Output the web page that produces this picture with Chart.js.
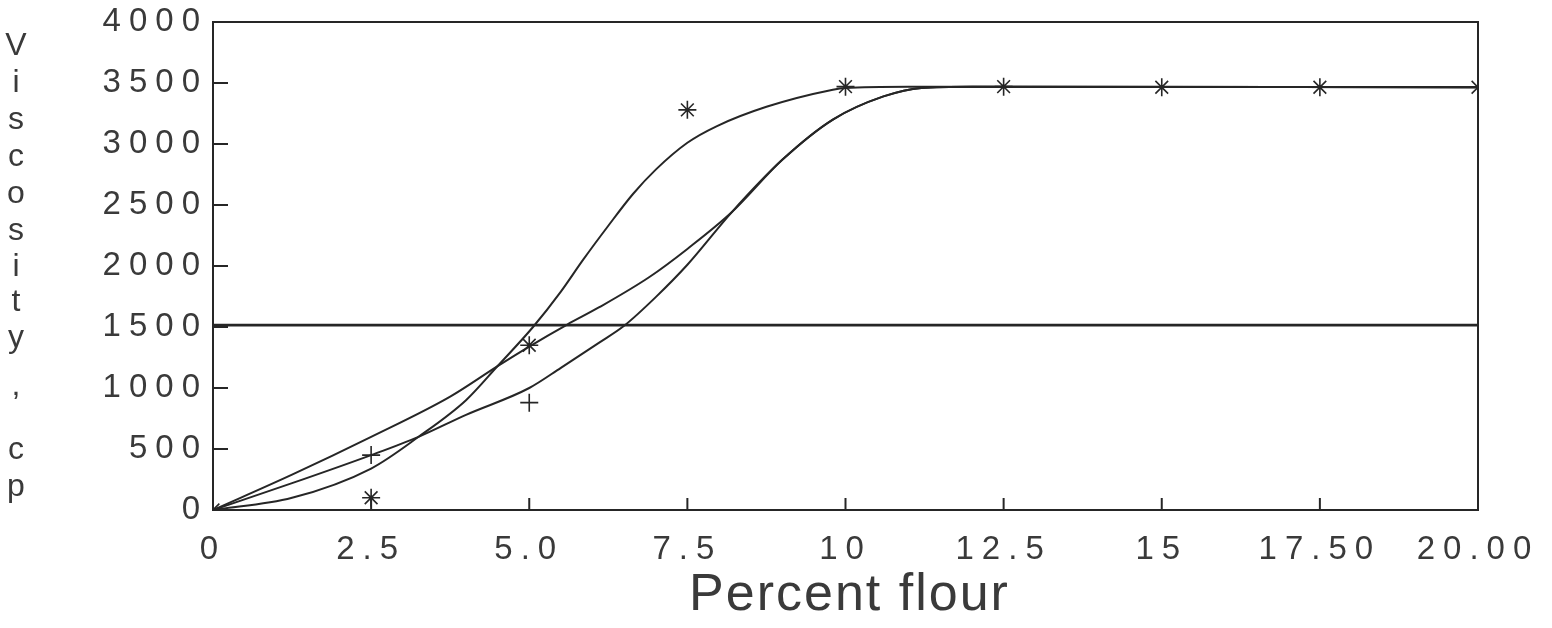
<!DOCTYPE html>
<html>
<head>
<meta charset="utf-8">
<script src="https://cdn.jsdelivr.net/npm/chart.js@4.4.1/dist/chart.umd.min.js"></script>
<style>
  html, body { margin: 0; padding: 0; background: #fff; }
  #wrap { position: relative; width: 1552px; height: 628px; }
</style>
</head>
<body>
<div id="wrap"><canvas id="chart"></canvas></div>
<script>
// tick labels as printed on the original plot
const xTickLabels = ["0", "2.5", "5.0", "7.5", "10", "12.5", "15", "17.50", "20.00"];
const yTickLabels = ["0", "500", "1000", "1500", "2000", "2500", "3000", "3500", "4000"];
const xTitle = "Percent flour";
const yTitleLetters = ["V", "i", "s", "c", "o", "s", "i", "t", "y", ",", "c", "p"];

// measured points
const starX = [0, 2.5, 5, 7.5, 10, 12.5, 15, 17.5, 20];
const starY = [0, 100, 1350, 3280, 3470, 3470, 3465, 3465, 3465];
const plusX = [2.5, 5];
const plusY = [450, 880];

// fitted curves
const curveAX = [0, 1.25, 2.5, 3.75, 4.5, 5, 5.6, 6.1, 6.9, 7.5, 8.2, 9, 9.8, 10.6, 11.2, 12, 20];
const curveAY = [0, 290, 600, 930, 1180, 1340, 1520, 1660, 1910, 2140, 2440, 2870, 3200, 3390, 3460, 3470, 3465];
const curveBX = [0, 1.25, 2.5, 3.25, 4, 5, 5.5, 6.1, 6.5, 7, 7.5, 8.2, 9, 9.8, 10.6, 11.2, 12, 20];
const curveBY = [0, 220, 450, 600, 780, 1000, 1165, 1370, 1510, 1745, 2010, 2440, 2870, 3200, 3390, 3460, 3470, 3465];
const curveCX = [0, 1.25, 2.5, 3.25, 4, 4.5, 5.06, 5.5, 5.85, 6.25, 6.64, 7, 7.5, 7.96, 8.75, 9.8, 10, 11, 20];
const curveCY = [0, 100, 340, 600, 900, 1180, 1500, 1790, 2050, 2330, 2590, 2790, 3010, 3145, 3305, 3445, 3460, 3470, 3465];

// flat reference line
const refX = [0, 20];
const refY = [1515, 1515];

const ink = "#262626";
const textInk = "#3a3a3a";
const fontFamily = "'Liberation Sans', Arial, sans-serif";

const pts = (xs, ys) => xs.map((x, i) => ({ x: x, y: ys[i] }));

const curve = (xs, ys) => ({
  type: "line",
  data: pts(xs, ys),
  borderColor: ink,
  borderWidth: 2,
  pointRadius: 0,
  cubicInterpolationMode: "monotone",
  fill: false,
});

// wide letter spacing of the old plotter lettering
const spacing = {
  id: "spacing",
  beforeLayout(chart) { chart.ctx.letterSpacing = "8px"; },
  beforeDraw(chart) { chart.ctx.letterSpacing = "8px"; },
};

const frame = {
  id: "frame",
  afterDatasetsDraw(chart) {
    const { ctx, chartArea, scales } = chart;
    ctx.save();
    ctx.strokeStyle = ink;
    ctx.lineWidth = 2;
    ctx.strokeRect(chartArea.left, chartArea.top, chartArea.right - chartArea.left, chartArea.bottom - chartArea.top);
    scales.y.ticks.forEach((t) => {
      const py = scales.y.getPixelForValue(t.value);
      ctx.beginPath();
      ctx.moveTo(chartArea.left, py);
      ctx.lineTo(chartArea.left + 15, py);
      ctx.stroke();
    });
    scales.x.ticks.forEach((t) => {
      const px = scales.x.getPixelForValue(t.value);
      ctx.beginPath();
      ctx.moveTo(px, chartArea.bottom);
      ctx.lineTo(px, chartArea.bottom - 12);
      ctx.stroke();
    });
    ctx.restore();
  },
  afterDraw(chart) {
    const { ctx, chartArea } = chart;
    ctx.save();
    ctx.fillStyle = textInk;

    // stacked y title
    const ys = [46, 83, 120, 157, 194, 231, 267, 302, 338, 386, 450, 487];
    ctx.letterSpacing = "0px";
    ctx.font = "32px " + fontFamily;
    ctx.textAlign = "center";
    ctx.textBaseline = "middle";
    yTitleLetters.forEach((ch, i) => ctx.fillText(ch, 16, ys[i]));

    // x title
    ctx.letterSpacing = "2px";
    ctx.font = "52px " + fontFamily;
    ctx.textBaseline = "alphabetic";
    ctx.fillText(xTitle, (chartArea.left + chartArea.right) / 2 + 4, 610);
    ctx.restore();
  },
};

new Chart(document.getElementById("chart"), {
  data: {
    datasets: [
      curve(curveAX, curveAY),
      curve(curveBX, curveBY),
      curve(curveCX, curveCY),
      {
        type: "line",
        data: pts(refX, refY),
        borderColor: ink,
        borderWidth: 2.6,
        pointRadius: 0,
        fill: false,
      },
      {
        type: "scatter",
        data: pts(starX, starY),
        pointStyle: "star",
        pointRadius: 9,
        borderColor: ink,
        borderWidth: 1.6,
        backgroundColor: ink,
      },
      {
        type: "scatter",
        data: pts(plusX, plusY),
        pointStyle: "cross",
        pointRadius: 9,
        borderColor: ink,
        borderWidth: 1.6,
      },
    ],
  },
  options: {
    responsive: true,
    maintainAspectRatio: false,
    animation: false,
    layout: { padding: { top: 22, right: 74, left: 0, bottom: 0 } },
    plugins: { legend: { display: false }, tooltip: { enabled: false } },
    scales: {
      x: {
        type: "linear",
        min: 0,
        max: 20,
        grid: { display: false, drawTicks: false },
        border: { display: false },
        ticks: {
          stepSize: 2.5,
          autoSkip: false,
          maxRotation: 0,
          padding: 20,
          color: textInk,
          font: { family: fontFamily, size: 33 },
          callback: (v) => xTickLabels[Math.round(v / 2.5)],
        },
        afterFit(scale) {
          scale.height = 118;
          scale.paddingLeft = 0;
          scale.paddingRight = 0;
        },
      },
      y: {
        type: "linear",
        min: 0,
        max: 4000,
        grid: { display: false, drawTicks: false },
        border: { display: false },
        ticks: {
          stepSize: 500,
          padding: 5,
          color: textInk,
          font: { family: fontFamily, size: 33 },
          callback: (v) => yTickLabels[Math.round(v / 500)],
        },
        afterFit(scale) {
          scale.width = 213;
          scale.paddingTop = 0;
          scale.paddingBottom = 0;
        },
      },
    },
  },
  plugins: [spacing, frame],
});
</script>
</body>
</html>
